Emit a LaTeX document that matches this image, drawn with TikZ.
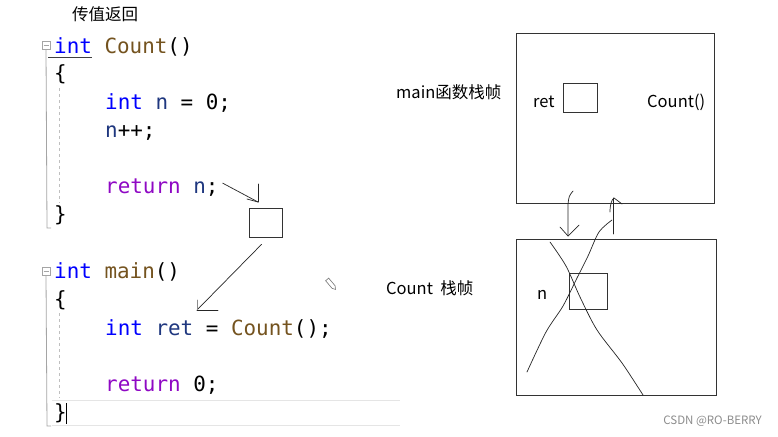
\documentclass[tikz,border=0pt]{standalone}
\usepackage{fontspec}
\setmainfont{Noto Sans CJK SC}
\newfontfamily\codefont{DejaVu Sans Mono}
\usetikzlibrary{arrows.meta, positioning, calc}
\definecolor{kwblue}{RGB}{0,0,255}
\definecolor{fnbrown}{RGB}{116,83,31}
\definecolor{varnavy}{RGB}{31,55,127}
\definecolor{retpurple}{RGB}{143,8,196}
\definecolor{guttergray}{RGB}{165,165,165}
\newcommand{\kw}[1]{\textcolor{kwblue}{#1}}
\newcommand{\fn}[1]{\textcolor{fnbrown}{#1}}
\newcommand{\vr}[1]{\textcolor{varnavy}{#1}}
\newcommand{\rw}[1]{\textcolor{retpurple}{#1}}

\begin{document}
\begin{tikzpicture}[
    x=1pt, y=-1pt,
    code/.style={font=\codefont\fontsize{20.9}{24}\selectfont, anchor=base west, inner sep=0pt},
    label/.style={font=\fontsize{16.5}{19}\selectfont, inner sep=0pt},
    frame/.style={draw=black!80, line width=0.9pt, rectangle, inner sep=0pt},
    cell/.style={draw=black!80, line width=0.8pt, rectangle, inner sep=0pt},
    gutter/.style={guttergray, line width=0.8pt},
    guide/.style={black!25, dashed, line width=0.6pt},
    hand/.style={black!85, line width=0.7pt, line cap=round, line join=round},
]
\useasboundingbox[fill=white] (0,0) rectangle (778,436);

% title
\node[label, anchor=west] (title) at (72,14) {传值返回};

% editor gutter
\node[draw=guttergray, fill=white, minimum size=8pt, inner sep=0pt] (fold1) at (46,45) {};
\node[draw=guttergray, fill=white, minimum size=8pt, inner sep=0pt] (fold2) at (46,271) {};
\draw[guttergray, line width=0.6pt] ($(fold1)+(-2.5,0)$) -- ++(5,0);
\draw[guttergray, line width=0.6pt] ($(fold2)+(-2.5,0)$) -- ++(5,0);
\draw[gutter] (fold1.south) -- (47,228) -- (51,228);
\draw[gutter] (fold2.south) -- (47,426) -- (51,426);
\draw[black!75, line width=0.8pt] (48,57) -- (92,57);
\draw[guide] (59,88) -- (59,203);
\draw[guide] (59,313) -- (59,398);
\draw[black!10, line width=1pt] (52,400) -- (400,400);
\draw[black!10, line width=1pt] (52,425) -- (400,425);

% Count()
\node[code] (l1) at (54,53)  {\kw{int} \fn{Count}()};
\node[code] (l2) at (54,81)  {\{};
\node[code] (l3) at (105,109) {\kw{int} \vr{n} = 0;};
\node[code] (l4) at (105,137) {\vr{n}++;};
\node[code] (l6) at (105,193) {\rw{return} \vr{n};};
\node[code] (l7) at (54,221) {\}};

% main()
\node[code] (m1) at (54,278) {\kw{int} \fn{main}()};
\node[code] (m2) at (54,306) {\{};
\node[code] (m3) at (105,335) {\kw{int} \vr{ret} = \fn{Count}();};
\node[code] (m5) at (105,391) {\rw{return} 0;};
\node[code] (m7) at (54,419) {\}};
\draw[black, line width=0.8pt] (66,403) -- (66,424);

% temporary value
\node[cell, minimum width=33pt, minimum height=29pt] (tmp) at (265.5,222.5) {};
\coordinate (tipA) at (258,202);
\coordinate (tipB) at (197,310);
\draw[hand] ($(l6.east)+(4,-4)$) -- (tipA);
\draw[hand] (tipA) -- ++(0,-18);
\draw[hand] (tipA) -- ++(-11,-3);
\draw[hand] ($(tmp.south)+(-4,7)$) -- (tipB);
\draw[hand, black!45] (tipB) -- ++(0,-10);
\draw[hand] (tipB) -- ++(21,0);

% pencil cursor
\draw[black!55, line width=0.6pt, rotate around={-50:(331,284)}]
    (325,282) -- (335,282) -- (338,284) -- (335,286) -- (325,286) -- cycle;

% main stack frame
\node[label, anchor=west] (mainlbl) at (396,92) {main函数栈帧};
\node[frame, minimum width=198pt, minimum height=170pt] (mainfr) at (615,118) {};
\node[label, anchor=west] (retlbl) at (533,102) {ret};
\node[cell, minimum width=34pt, minimum height=29pt] (retbox) at (580,97.5) {};
\node[label, anchor=west] (calllbl) at (647,102) {Count()};

% Count stack frame
\node[label, anchor=west] (cntlbl) at (386,288) {Count\ \ 栈帧};
\node[frame, minimum width=200pt, minimum height=156pt] (cntfr) at (616,317) {};
\node[label, anchor=west] (nlbl) at (537,295) {n};
\node[cell, minimum width=38pt, minimum height=36pt] (nbox) at (588,291) {};

% hand strokes
\draw[hand] (573,191) .. controls (569,196) .. (568,204) -- (568,236);
\draw[hand] (560,227) -- (568,236) -- (579,225);
\draw[hand] (613,234) -- (613,198);
\draw[hand] (610,212) .. controls (610,204) and (612,199) .. (614,198) -- (622,204);
\draw[hand] plot[smooth] coordinates {(612,220) (599,232) (588,256) (577,278) (563,306) (546,332) (527,372)};
\draw[hand] plot[smooth] coordinates {(550,242) (566,266) (580,297) (597,330) (622,363) (643,395)};

% watermark
\node[font=\fontsize{11.5}{13}\selectfont, text=black!45, anchor=east, inner sep=0pt] (mark) at (762,421) {CSDN @RO-BERRY};
\end{tikzpicture}
\end{document}
